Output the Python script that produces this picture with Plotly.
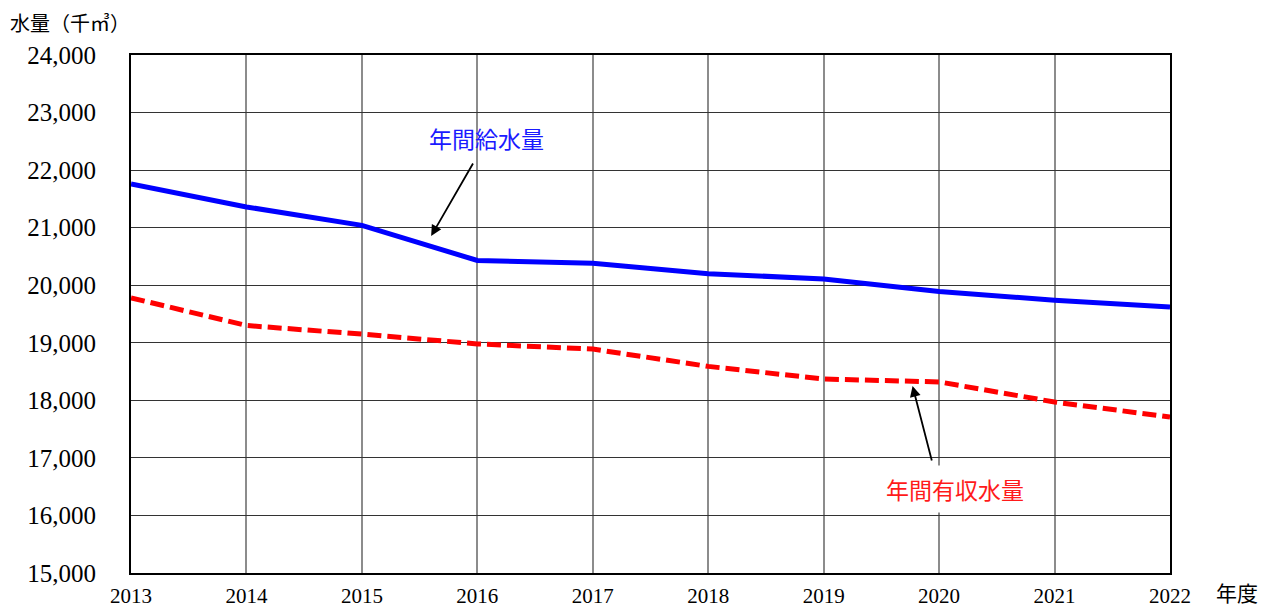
import plotly.graph_objects as go

years = [2013, 2014, 2015, 2016, 2017, 2018, 2019, 2020, 2021, 2022]
supply = [21760, 21360, 21040, 20430, 20380, 20200, 20110, 19890, 19740, 19620]
revenue = [19780, 19300, 19150, 18980, 18890, 18590, 18370, 18320, 17970, 17710]
y_ticks = [15000, 16000, 17000, 18000, 19000, 20000, 21000, 22000, 23000, 24000]

serif = "Liberation Serif, DejaVu Serif, serif"
jp = "Noto Sans CJK JP, sans-serif"

# page body has an 8px margin; figure is sized to fit the window
OFF = 8
W, H = 1271 - OFF, 607 - OFF
L, R, T, B = 131 - OFF, 101, 55 - OFF, 34
PW, PH = W - L - R, H - T - B


def px(xp, yp):
    # window pixel -> paper coords
    return (xp - OFF - L) / PW, (H - B - (yp - OFF)) / PH


fig = go.Figure()
fig.add_trace(go.Scatter(x=years, y=supply, mode="lines", name="年間給水量",
                         line=dict(color="#0000FF", width=5), cliponaxis=False))
fig.add_trace(go.Scatter(x=years, y=revenue, mode="lines", name="年間有収水量",
                         line=dict(color="#FF0000", width=5, dash="14px,6px"), cliponaxis=False))

fig.update_layout(
    width=W, height=H,
    margin=dict(l=L, r=R, t=T, b=B, autoexpand=False),
    paper_bgcolor="white", plot_bgcolor="white",
    showlegend=False,
    font=dict(family=serif, color="black"),
)
fig.update_xaxes(
    range=[2013, 2022], tickmode="array", tickvals=years, ticktext=[str(y) for y in years],
    showgrid=True, gridcolor="#8c8c8c", gridwidth=2,
    showline=True, linecolor="black", linewidth=2, mirror=True,
    tickfont=dict(family=serif, size=21, color="black"), ticks="", ticklabelstandoff=3,
    zeroline=False, automargin=False,
)
fig.update_yaxes(
    range=[15000, 24000], tickmode="array", tickvals=y_ticks,
    ticktext=[f"{v:,}" for v in y_ticks],
    showgrid=True, gridcolor="#333333", gridwidth=1,
    showline=True, linecolor="black", linewidth=2, mirror=True,
    tickfont=dict(family=serif, size=25, color="black"), ticks="", ticklabelstandoff=28,
    zeroline=False, automargin=False,
)

# axis titles
ax_, ay_ = px(8, 22)
fig.add_annotation(x=ax_, y=ay_, xref="paper", yref="paper", text="水量（千㎥）",
                   showarrow=False, xanchor="left", yanchor="middle",
                   font=dict(family=jp, size=20, color="black"))
bx_, by_ = px(1237, 592)
fig.add_annotation(x=bx_, y=by_, xref="paper", yref="paper", text="年度", showarrow=False,
                   xanchor="center", yanchor="middle",
                   font=dict(family=jp, size=21, color="black"))

# series labels with arrows
fig.add_annotation(x=2015.60, y=20855, xref="x", yref="y", ax=2015.97, ay=22141, axref="x", ayref="y",
                   text="", showarrow=True, arrowhead=2, arrowsize=1.2, arrowwidth=1.8, arrowcolor="black")
fig.add_annotation(x=2016.08, y=22558, xref="x", yref="y", text="年間給水量", showarrow=False,
                   font=dict(family=jp, size=23, color="#1a1aff"))
fig.add_annotation(x=2019.77, y=18249, xref="x", yref="y", ax=2019.94, ay=16928, axref="x", ayref="y",
                   text="", showarrow=True, arrowhead=2, arrowsize=1.2, arrowwidth=1.8, arrowcolor="black")
fig.add_annotation(x=2020.14, y=16459, xref="x", yref="y", text="年間有収水量", showarrow=False,
                   bgcolor="white", borderpad=6,
                   font=dict(family=jp, size=23, color="#FF1a1a"))

fig.write_html("out.html")
